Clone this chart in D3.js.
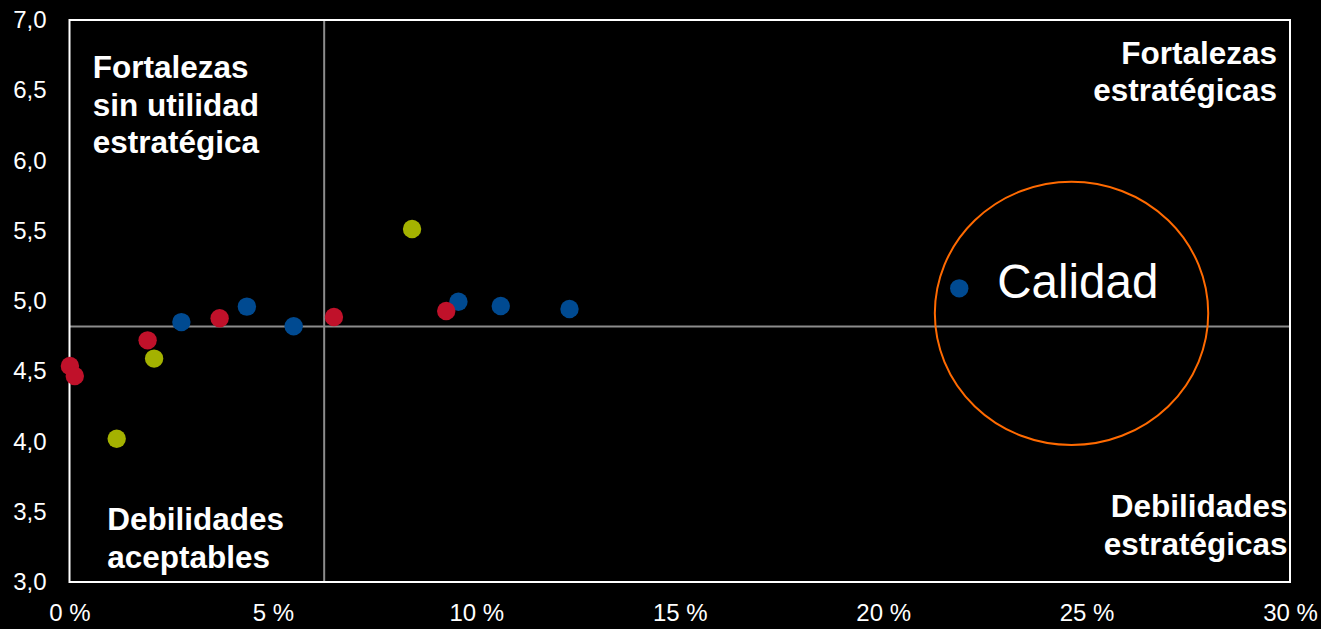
<!DOCTYPE html>
<html>
<head>
<meta charset="utf-8">
<script src="https://cdn.jsdelivr.net/npm/d3@7"></script>
<style>
  html, body { margin: 0; padding: 0; background: #000; }
  svg { display: block; }
</style>
</head>
<body>
<svg id="chart" width="1321" height="629"></svg>
<script>
// ---- data ----
const xTicks = [0, 5, 10, 15, 20, 25, 30];
const yTicks = [3.0, 3.5, 4.0, 4.5, 5.0, 5.5, 6.0, 6.5, 7.0];

const blueX = [2.75, 4.36, 5.51, 9.56, 10.60, 12.29, 21.87];
const blueY = [4.85, 4.96, 4.82, 4.995, 4.964, 4.943, 5.09];

const redX = [0.01, 0.13, 1.92, 3.69, 6.50, 9.26];
const redY = [4.537, 4.466, 4.72, 4.877, 4.886, 4.929];

const yellowX = [1.16, 2.08, 8.42];
const yellowY = [4.02, 4.59, 5.512];

const refX = 6.26;   // vertical reference line (x value)
const refY = 4.818;  // horizontal reference line (y value)

const highlightLabel = "Calidad";
const highlightEllipse = { cx: 24.63, cy: 4.912, rx: 3.36, ry: 0.937 };

const quadrantLabels = [
  { lines: ["Fortalezas", "sin utilidad", "estratégica"], pos: "tl" },
  { lines: ["Fortalezas", "estratégicas"], pos: "tr" },
  { lines: ["Debilidades", "aceptables"], pos: "bl" },
  { lines: ["Debilidades", "estratégicas"], pos: "br" }
];

// ---- layout ----
(function () {
const svg = d3.select("#chart");
const mLeft = 69.5, mRight = 1290, mTop = 20, mBottom = 582;
const x = d3.scaleLinear().domain([0, 30]).range([mLeft, mRight]);
const y = d3.scaleLinear().domain([3, 7]).range([mBottom, mTop]);

const font = "'Liberation Sans', Arial, sans-serif";

// reference lines
svg.append("line")
  .attr("x1", x(refX)).attr("x2", x(refX))
  .attr("y1", y(7)).attr("y2", y(3))
  .attr("stroke", "#8c8c8c").attr("stroke-width", 2);
svg.append("line")
  .attr("x1", x(0)).attr("x2", x(30))
  .attr("y1", y(refY)).attr("y2", y(refY))
  .attr("stroke", "#8c8c8c").attr("stroke-width", 2);

// plot border
svg.append("rect")
  .attr("x", x(0)).attr("y", y(7))
  .attr("width", x(30) - x(0)).attr("height", y(3) - y(7))
  .attr("fill", "none").attr("stroke", "#fff").attr("stroke-width", 2);

// axes tick labels
const yAxis = d3.axisLeft(y).tickValues(yTicks).tickSize(0).tickPadding(23)
  .tickFormat(d => d3.format(".1f")(d).replace(".", ","));
const gy = svg.append("g").attr("transform", `translate(${mLeft},0)`).call(yAxis);
gy.select(".domain").remove();
gy.selectAll("text").attr("fill", "#fff").style("font-family", font).style("font-size", "24px");

const xAxis = d3.axisBottom(x).tickValues(xTicks).tickSize(0).tickPadding(22)
  .tickFormat(d => d + " %");
const gx = svg.append("g").attr("transform", `translate(0,${mBottom})`).call(xAxis);
gx.select(".domain").remove();
gx.selectAll("text").attr("fill", "#fff").style("font-family", font).style("font-size", "24px");

// points
function drawSeries(xs, ys, color) {
  svg.append("g").selectAll("circle")
    .data(xs.map((v, i) => [v, ys[i]]))
    .join("circle")
    .attr("cx", d => x(d[0])).attr("cy", d => y(d[1]))
    .attr("r", 9.2).attr("fill", color);
}
drawSeries(blueX, blueY, "#004a91");
drawSeries(redX, redY, "#c0112a");
drawSeries(yellowX, yellowY, "#a4b200");

// highlight ellipse + label
svg.append("ellipse")
  .attr("cx", x(highlightEllipse.cx)).attr("cy", y(highlightEllipse.cy))
  .attr("rx", x(highlightEllipse.rx) - x(0)).attr("ry", y(3) - y(3 + highlightEllipse.ry))
  .attr("fill", "none").attr("stroke", "#ff6a00").attr("stroke-width", 2);
svg.append("text")
  .attr("x", x(blueX[6]) + 38).attr("y", y(blueY[6]) + 9.5)
  .attr("fill", "#fff").style("font-family", font).style("font-size", "47.5px")
  .text(highlightLabel);

// quadrant labels
const qpos = {
  tl: { x: 92.7, y: 77.7, anchor: "start" },
  tr: { x: 1277, y: 63.5, anchor: "end" },
  bl: { x: 107.3, y: 530, anchor: "start" },
  br: { x: 1287.5, y: 517.3, anchor: "end" }
};
quadrantLabels.forEach(q => {
  const p = qpos[q.pos];
  const t = svg.append("text")
    .attr("x", p.x).attr("y", p.y)
    .attr("text-anchor", p.anchor)
    .attr("fill", "#fff").style("font-family", font)
    .style("font-size", "31.5px").style("font-weight", "bold");
  q.lines.forEach((l, i) => {
    t.append("tspan").attr("x", p.x).attr("dy", i === 0 ? 0 : 37.8).text(l);
  });
});
})();
</script>
</body>
</html>
